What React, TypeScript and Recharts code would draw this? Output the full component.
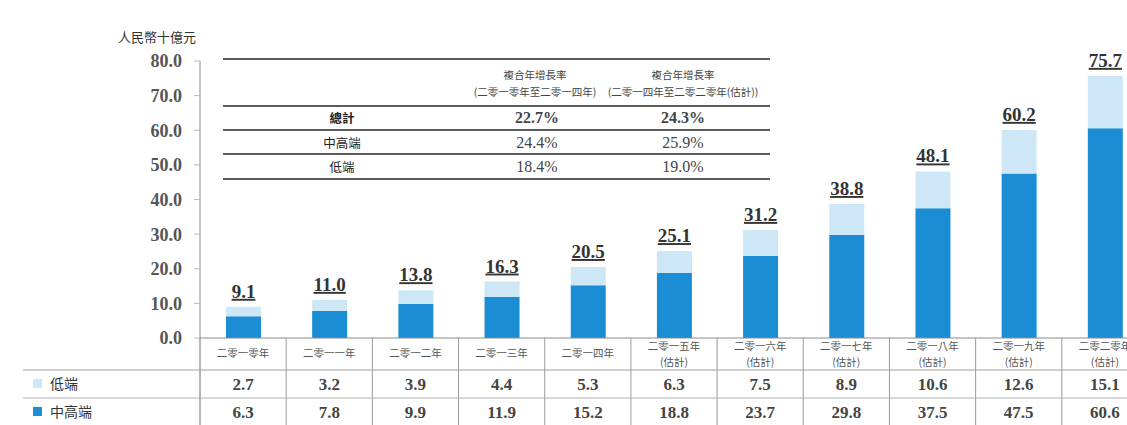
import React from 'react';
import { BarChart, Bar, XAxis, YAxis, LabelList } from 'recharts';

const years = [
  '二零一零年', '二零一一年', '二零一二年', '二零一三年', '二零一四年',
  '二零一五年', '二零一六年', '二零一七年', '二零一八年', '二零一九年', '二零二零年',
];
const isEstimate = [false, false, false, false, false, true, true, true, true, true, true];
const lowEnd = [2.7, 3.2, 3.9, 4.4, 5.3, 6.3, 7.5, 8.9, 10.6, 12.6, 15.1];
const midHigh = [6.3, 7.8, 9.9, 11.9, 15.2, 18.8, 23.7, 29.8, 37.5, 47.5, 60.6];
const totals = [9.1, 11.0, 13.8, 16.3, 20.5, 25.1, 31.2, 38.8, 48.1, 60.2, 75.7];
const yTicks = [0, 10, 20, 30, 40, 50, 60, 70, 80];

const cagrRows = ['總計', '中高端', '低端'];
const cagrHeaders = [
  ['複合年增長率', '(二零一零年至二零一四年)'],
  ['複合年增長率', '(二零一四年至二零二零年(估計))'],
];
const cagr1014 = ['22.7%', '24.4%', '18.4%'];
const cagr1420 = ['24.3%', '25.9%', '19.0%'];

const DARK = '#1b8dd5';
const LIGHT = '#cde7f7';
const SERIF = '"Liberation Serif", "Times New Roman", serif';
const CJK = '"Noto Sans CJK TC", "Noto Sans CJK SC", sans-serif';

const CHART_W = 1160;
const CHART_H = 425;
const PLOT_LEFT = 200;
const PLOT_RIGHT = 1148;
const PLOT_BOTTOM = 338;
const BAND = (PLOT_RIGHT - PLOT_LEFT) / years.length;

const data = years.map((y, i) => ({
  year: y,
  low: lowEnd[i],
  mid: midHigh[i],
  total: totals[i],
}));

function YearTick(props: any) {
  const { x, payload } = props;
  const i = years.indexOf(payload.value);
  const est = isEstimate[i];
  return (
    <g>
      <line x1={x - BAND / 2} x2={x - BAND / 2} y1={PLOT_BOTTOM} y2={425} stroke="#9a9a9a" />
      {est ? (
        <>
          <text x={x} y={350} textAnchor="middle" fontSize={10.5} fill="#555" fontFamily={CJK}>{years[i]}</text>
          <text x={x} y={366} textAnchor="middle" fontSize={10.5} fill="#555" fontFamily={CJK}>(估計)</text>
        </>
      ) : (
        <text x={x} y={357} textAnchor="middle" fontSize={10.5} fill="#555" fontFamily={CJK}>{years[i]}</text>
      )}
      <text x={x} y={390} textAnchor="middle" fontSize={17} fontWeight="bold" fill="#444" fontFamily={SERIF}>
        {lowEnd[i].toFixed(1)}
      </text>
      <text x={x} y={418} textAnchor="middle" fontSize={17} fontWeight="bold" fill="#444" fontFamily={SERIF}>
        {midHigh[i].toFixed(1)}
      </text>
    </g>
  );
}

function TotalLabel(props: any) {
  const { x, y, width, index } = props;
  return (
    <text
      x={x + width / 2}
      y={y - 9}
      textAnchor="middle"
      fontSize={19}
      fontWeight="bold"
      fill="#333"
      fontFamily={SERIF}
      textDecoration="underline"
    >
      {totals[index].toFixed(1)}
    </text>
  );
}

const abs = (left: number, top: number, extra: React.CSSProperties = {}): React.CSSProperties => ({
  position: 'absolute',
  left,
  top,
  transform: 'translate(-50%, -50%)',
  whiteSpace: 'nowrap',
  lineHeight: 1,
  ...extra,
});

export default function App() {
  const lineYs = [59, 106, 130, 154, 179];
  const rowYs = [118, 143, 167];
  return (
    <div style={{ position: 'absolute', left: 0, top: 0, width: 1127, height: 425, overflow: 'hidden', background: '#fff' }}>
      <BarChart
        width={CHART_W}
        height={CHART_H}
        data={data}
        margin={{ top: 61, right: CHART_W - PLOT_RIGHT, bottom: 0, left: 0 }}
        barSize={35}
      >
        <YAxis
          width={PLOT_LEFT}
          domain={[0, 80]}
          ticks={yTicks}
          interval={0}
          tickFormatter={(v: number) => v.toFixed(1)}
          axisLine={{ stroke: '#8a8a8a' }}
          tickLine={{ stroke: '#bbb' }}
          tickSize={6}
          tickMargin={12}
          tick={{ fontSize: 18, fontWeight: 'bold', fill: '#555', fontFamily: SERIF }}
        />
        <XAxis
          dataKey="year"
          height={CHART_H - PLOT_BOTTOM}
          interval={0}
          axisLine={{ stroke: '#8a8a8a' }}
          tickLine={false}
          tick={<YearTick />}
        />
        <Bar dataKey="mid" stackId="a" fill={DARK} isAnimationActive={false} />
        <Bar dataKey="low" stackId="a" fill={LIGHT} isAnimationActive={false}>
          <LabelList dataKey="total" content={<TotalLabel />} />
        </Bar>
      </BarChart>

      <svg width={1127} height={425} style={{ position: 'absolute', left: 0, top: 0, pointerEvents: 'none' }}>
        <line x1={23} x2={1127} y1={370} y2={370} stroke="#a0a0a0" />
        <line x1={23} x2={1127} y1={398} y2={398} stroke="#b0b0b0" />
        <line x1={200} x2={200} y1={PLOT_BOTTOM} y2={425} stroke="#9a9a9a" />
        <rect x={33} y={379} width={9} height={9} fill={LIGHT} />
        <text x={50} y={389} fontSize={14} fill="#333" fontFamily={CJK}>低端</text>
        <rect x={33} y={407} width={9} height={9} fill={DARK} />
        <text x={50} y={417} fontSize={14} fill="#333" fontFamily={CJK}>中高端</text>
      </svg>

      <div style={abs(157, 36, { fontSize: 13, color: '#333', fontFamily: CJK })}>人民幣十億元</div>

      {lineYs.map((y) => (
        <div key={y} style={{ position: 'absolute', left: 223, top: y - 1, width: 547, height: 2, background: '#5a5a5a' }} />
      ))}
      {cagrHeaders.map((h, c) => (
        <React.Fragment key={c}>
          <div style={abs(c === 0 ? 535 : 683, 75, { fontSize: 10.5, color: '#444', fontFamily: CJK })}>{h[0]}</div>
          <div style={abs(c === 0 ? 535 : 683, 92, { fontSize: 10.5, color: '#444', fontFamily: CJK })}>{h[1]}</div>
        </React.Fragment>
      ))}
      {cagrRows.map((r, i) => (
        <React.Fragment key={r}>
          <div style={abs(342, rowYs[i], { fontSize: 12.5, color: '#222', fontWeight: i === 0 ? 'bold' : 'normal', fontFamily: CJK })}>{r}</div>
          <div style={abs(537, rowYs[i], { fontSize: 16, color: '#444', fontWeight: i === 0 ? 'bold' : 'normal', fontFamily: SERIF })}>{cagr1014[i]}</div>
          <div style={abs(683, rowYs[i], { fontSize: 16, color: '#444', fontWeight: i === 0 ? 'bold' : 'normal', fontFamily: SERIF })}>{cagr1420[i]}</div>
        </React.Fragment>
      ))}
    </div>
  );
}
